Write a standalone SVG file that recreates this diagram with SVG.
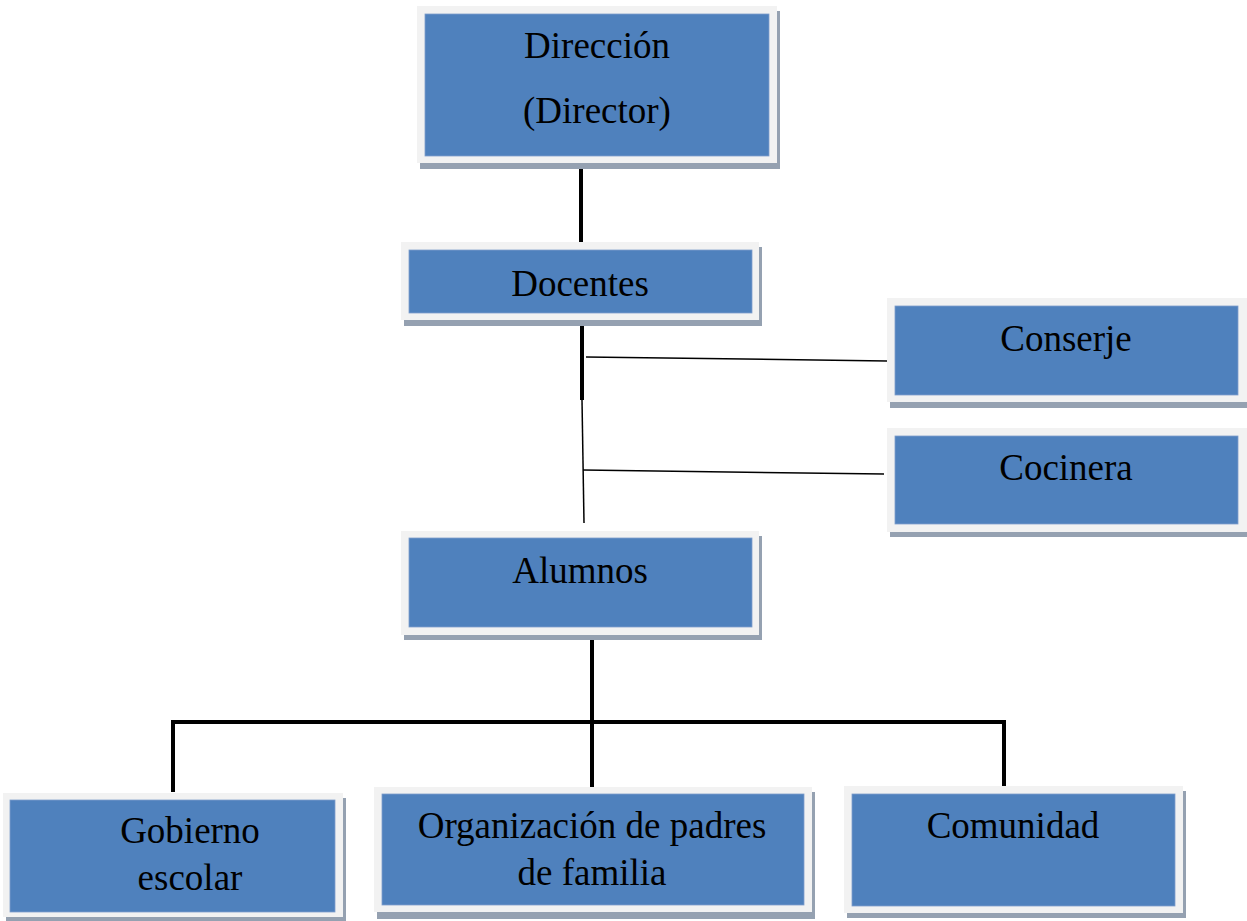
<svg xmlns="http://www.w3.org/2000/svg" width="1247" height="921" viewBox="0 0 1247 921">
<style>
.sh{fill:#95a1b1}
.out{fill:#f2f2f2}
.in{fill:#4f81bd;stroke:#7f9fcc;stroke-width:0.8}
text{font-family:"Liberation Serif","Times New Roman",serif;font-size:37px;fill:#000;text-anchor:middle}
.thick{stroke:#000;stroke-width:4;fill:none}
.thin{stroke:#000;stroke-width:1.5;fill:none}
</style>
<rect width="1247" height="921" fill="#fff"/>
<g id="connectors">
<line class="thick" x1="581" y1="166" x2="581" y2="243"/>
<line class="thick" x1="582" y1="320" x2="582" y2="400"/>
<line class="thin" x1="582" y1="400" x2="584" y2="523"/>
<line class="thin" x1="586" y1="357" x2="887" y2="361"/>
<line class="thin" x1="583" y1="470" x2="884" y2="474"/>
<line class="thick" x1="592" y1="628" x2="592" y2="790"/>
<polyline class="thick" points="173,792 173,722 1004,722 1004,786"/>
</g>
<g id="direccion">
<rect class="sh" x="420" y="11" width="360" height="158"/>
<rect class="out" x="417" y="6" width="360" height="157"/>
<rect class="in" x="425" y="14" width="344" height="142"/>
<text x="597" y="58">Dirección</text>
<text x="597" y="123">(Director)</text>
</g>
<g id="docentes">
<rect class="sh" x="404" y="247" width="358" height="79"/>
<rect class="out" x="401" y="242" width="358" height="78"/>
<rect class="in" x="409" y="250" width="343" height="63"/>
<text x="580" y="296">Docentes</text>
</g>
<g id="conserje">
<rect class="sh" x="890" y="303" width="360" height="105"/>
<rect class="out" x="887" y="298" width="360" height="104"/>
<rect class="in" x="895" y="306" width="343" height="89"/>
<text x="1066" y="351">Conserje</text>
</g>
<g id="cocinera">
<rect class="sh" x="890" y="433" width="360" height="104"/>
<rect class="out" x="887" y="428" width="360" height="104"/>
<rect class="in" x="895" y="436" width="343" height="88"/>
<text x="1066" y="480">Cocinera</text>
</g>
<g id="alumnos">
<rect class="sh" x="404" y="536" width="358" height="104"/>
<rect class="out" x="401" y="531" width="358" height="104"/>
<rect class="in" x="409" y="538" width="343" height="89"/>
<text x="580" y="583">Alumnos</text>
</g>
<g id="gobierno">
<rect class="sh" x="6" y="798" width="340" height="124"/>
<rect class="out" x="3" y="793" width="340" height="124"/>
<rect class="in" x="10" y="800" width="325" height="112"/>
<text x="190" y="843">Gobierno</text>
<text x="190" y="890">escolar</text>
</g>
<g id="organizacion">
<rect class="sh" x="377" y="792" width="438" height="127"/>
<rect class="out" x="374" y="787" width="438" height="125"/>
<rect class="in" x="382" y="794" width="422" height="111"/>
<text x="592" y="838">Organización de padres</text>
<text x="592" y="885">de familia</text>
</g>
<g id="comunidad">
<rect class="sh" x="847" y="791" width="339" height="127"/>
<rect class="out" x="844" y="786" width="339" height="127"/>
<rect class="in" x="852" y="794" width="323" height="112"/>
<text x="1013" y="838">Comunidad</text>
</g>
</svg>
